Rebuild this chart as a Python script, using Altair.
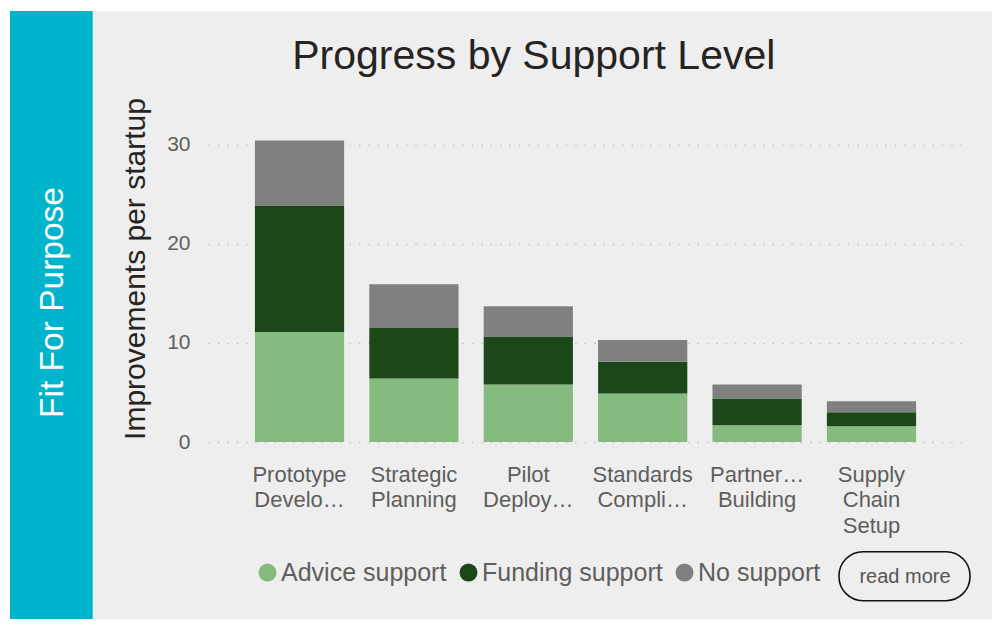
import altair as alt
import pandas as pd

# ---- data ----
categories = [
    "Prototype Development",
    "Strategic Planning",
    "Pilot Deployment",
    "Standards Compliance",
    "Partnership Building",
    "Supply Chain Setup",
]
tick_labels = [
    ["Prototype", "Develo…"],
    ["Strategic", "Planning"],
    ["Pilot", "Deploy…"],
    ["Standards", "Compli…"],
    ["Partner…", "Building"],
    ["Supply", "Chain", "Setup"],
]
supports = ["Advice support", "Funding support", "No support"]
advice = [11.1, 6.4, 5.8, 4.9, 1.7, 1.6]
funding = [12.7, 5.1, 4.8, 3.2, 2.7, 1.4]
no_support = [6.6, 4.4, 3.1, 2.2, 1.4, 1.1]
colors = ["#85BB7F", "#1B4719", "#808080"]

rows = []
for i, c in enumerate(categories):
    for j, (s, vals) in enumerate(zip(supports, [advice, funding, no_support])):
        rows.append({"category": c, "support": s, "value": vals[i], "idx": j})
df = pd.DataFrame(rows)

label_map = "{" + ", ".join(
    "'" + c + "': [" + ", ".join("'" + p + "'" for p in parts) + "]"
    for c, parts in zip(categories, tick_labels)
) + "}"

FONT = "Liberation Sans"

one = alt.Data(values=[{"k": 0}])

white_top = alt.Chart(one).mark_rect(color="white").encode(
    x=alt.value(-200), x2=alt.value(784), y=alt.value(-87), y2=alt.value(-84)
)
white_left = alt.Chart(one).mark_rect(color="white").encode(
    x=alt.value(-200), x2=alt.value(-198), y=alt.value(-87), y2=alt.value(524)
)
blue_panel = alt.Chart(one).mark_rect(color="#00B4CC").encode(
    x=alt.value(-198), x2=alt.value(-115.3), y=alt.value(-84), y2=alt.value(524)
)
panel_text = alt.Chart(one).mark_text(
    text="Fit For Purpose", angle=270, align="center", baseline="alphabetic",
    font=FONT, fontSize=33.5, color="white"
).encode(x=alt.value(-145), y=alt.value(207.5))

title = alt.Chart(one).mark_text(
    text="Progress by Support Level", align="center", baseline="alphabetic",
    font=FONT, fontSize=41, color="#252423"
).encode(x=alt.value(325.8), y=alt.value(-26))

button = alt.Chart(one).mark_rect(
    fill="transparent", stroke="#111111", strokeWidth=1.6, cornerRadius=24
).encode(x=alt.value(631), x2=alt.value(762), y=alt.value(456.7), y2=alt.value(505.7))
button_text = alt.Chart(one).mark_text(
    text="read more", align="center", baseline="alphabetic",
    font=FONT, fontSize=20, color="#555555"
).encode(x=alt.value(697), y=alt.value(488))

bars = alt.Chart(df).mark_bar().encode(
    x=alt.X(
        "category:N",
        sort=categories,
        scale=alt.Scale(paddingInner=0.22, paddingOuter=0.41),
        axis=alt.Axis(
            title=None, labelAngle=0, domain=False, ticks=False, grid=False,
            labelExpr=label_map + "[datum.value]",
            labelFont=FONT, labelFontSize=22, labelColor="#605E5C",
            labelPadding=22, labelLineHeight=25.5, labelBaseline="top",
            labelLimit=300,
        ),
    ),
    y=alt.Y(
        "value:Q",
        stack="zero",
        scale=alt.Scale(domain=[0, 35], nice=False),
        axis=alt.Axis(
            values=[0, 10, 20, 30], domain=False, ticks=False,
            grid=True, gridColor="#C4C4C4", gridDash=[1.6, 7.8], gridWidth=1.6,
            labelFont=FONT, labelFontSize=21, labelColor="#605E5C", labelPadding=18,
            title="Improvements per startup", titleFont=FONT, titleFontSize=30,
            titleFontWeight="normal", titleColor="#252423",
            titleX=-64, titleY=173.5, titleAngle=270, titleAlign="center",
            titleBaseline="alphabetic",
        ),
    ),
    color=alt.Color(
        "support:N",
        scale=alt.Scale(domain=supports, range=colors),
        legend=alt.Legend(
            title=None, orient="none", legendX=47, legendY=464.8,
            direction="horizontal", symbolType="circle", symbolSize=324,
            symbolStrokeWidth=0, labelFont=FONT, labelFontSize=25,
            labelColor="#605E5C", labelOffset=1, columnPadding=9,
            labelLimit=400, padding=0,
        ),
    ),
    order=alt.Order("idx:Q", sort="ascending"),
)

chart = alt.layer(
    white_top, white_left, blue_panel, panel_text, title, button, button_text, bars
).properties(
    width=755,
    height=347,
    background="#EEEEEE",
    autosize=alt.AutoSizeParams(type="none"),
    padding={"left": 200, "top": 87, "right": 29, "bottom": 177},
).configure_view(stroke=None)

chart.save("out.html", embed_options={"renderer": "svg", "actions": False})
